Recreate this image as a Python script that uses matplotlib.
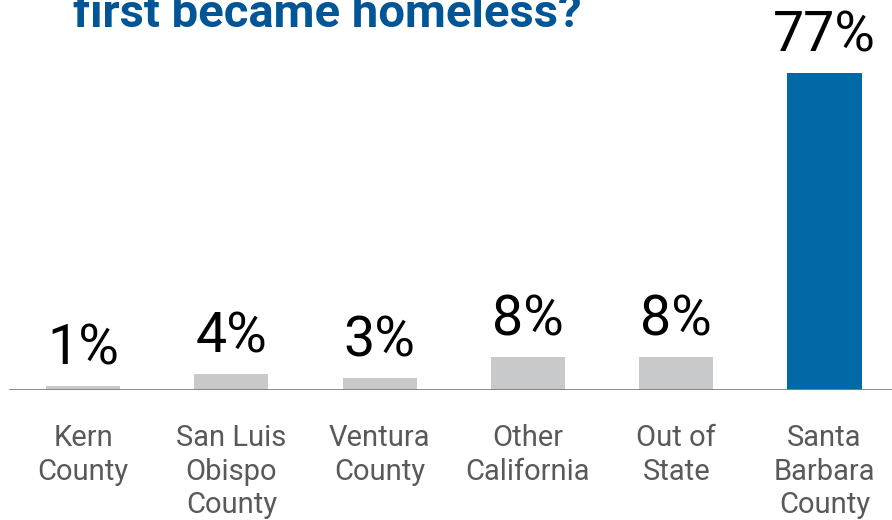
import matplotlib
matplotlib.use("Agg")
import matplotlib.pyplot as plt
from matplotlib.transforms import blended_transform_factory

categories = ["Kern\nCounty", "San Luis\nObispo\nCounty", "Ventura\nCounty",
              "Other\nCalifornia", "Out of\nState", "Santa\nBarbara\nCounty"]
values = [1, 4, 3, 8, 8, 77]
value_labels = ["1%", "4%", "3%", "8%", "8%", "77%"]
colors = ["#C8C9CB"] * 5 + ["#0069A6"]
title = "first became homeless?"

plt.rcParams['font.family'] = ['Roboto', 'DejaVu Sans']

fig = plt.figure(figsize=(8.92, 5.2), dpi=100)
ax = fig.add_axes([9 / 892, 0.25, 1 - 9 / 892, 0.75])
x = list(range(len(values)))
ax.bar(x, values, width=0.5, color=colors, zorder=2)
ax.set_xlim(-0.5, 5.455)
ax.set_ylim(0, 94.7)
ax.axhline(0, color="#808080", lw=2, zorder=3)
for s in ax.spines.values():
    s.set_visible(False)
ax.set_yticks([])
ax.set_xticks([])

for xi, v, lab in zip(x, values, value_labels):
    ax.annotate(lab, (xi, v), xytext=(0, 26.5), textcoords="offset points",
                ha="center", va="center", fontsize=40, color="#000000")

trans = blended_transform_factory(ax.transData, fig.transFigure)
for xi, cat in zip(x, categories):
    ax.text(xi, (520 - 424) / 520, cat, transform=trans, ha="center", va="top",
            fontsize=21, color="#595959", linespacing=1.26)

fig.text(73 / 892, (520 - 27) / 520, title, ha="left", va="baseline",
         fontsize=34, fontweight="bold", color="#005596")

fig.savefig("out.png", dpi=100)
